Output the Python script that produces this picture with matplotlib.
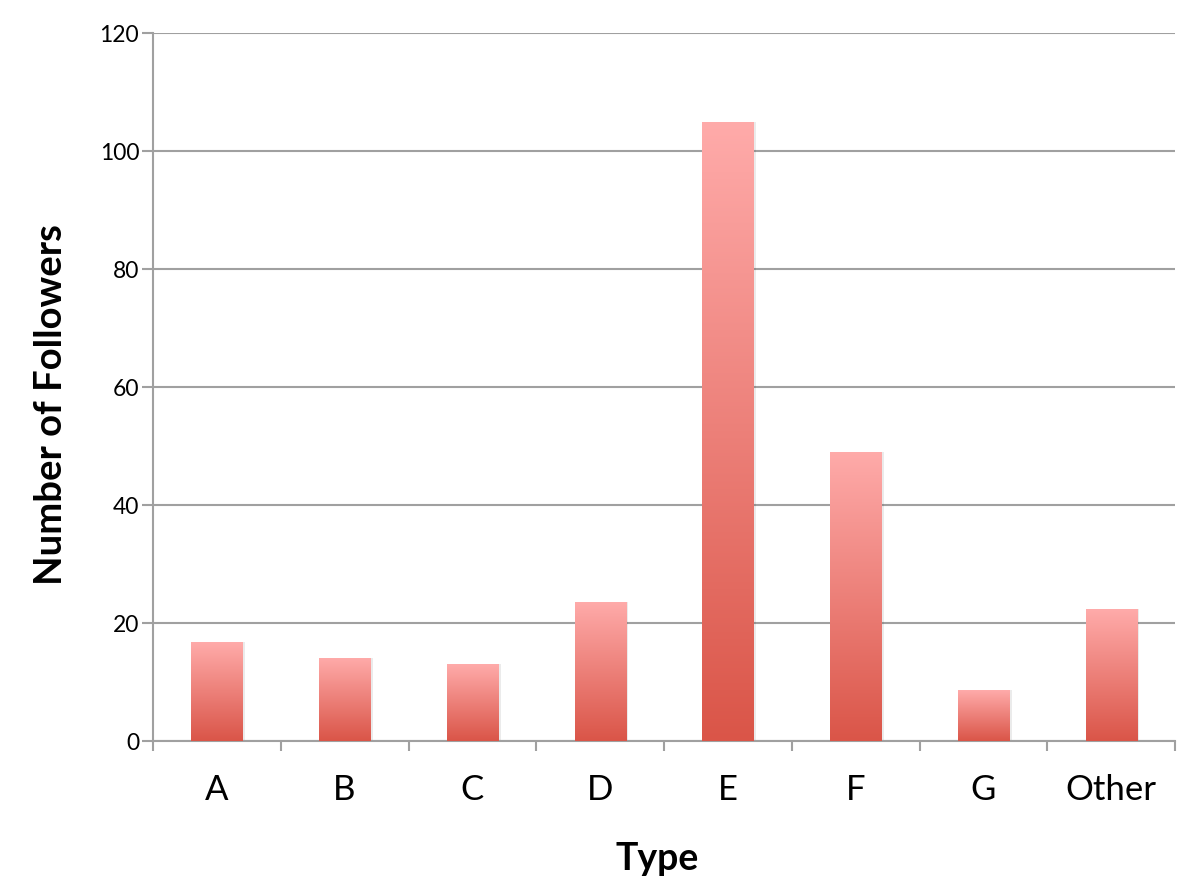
import numpy as np
import matplotlib.pyplot as plt
from matplotlib.colors import LinearSegmentedColormap

categories = ["A", "B", "C", "D", "E", "F", "G", "Other"]
followers = [16.7, 14.1, 13.0, 23.6, 105.0, 49.0, 8.6, 22.3]

plt.rcParams["font.family"] = ["Lato", "DejaVu Sans"]

fig = plt.figure(figsize=(12, 8.91), dpi=100)
ax = fig.add_axes([153 / 1200, 1 - 741 / 891, (1175 - 153) / 1200, (741 - 33) / 891])

grad = LinearSegmentedColormap.from_list("bar", ["#DA5548", "#FFABAA"])
gradient = np.linspace(0, 1, 256).reshape(-1, 1)

x = np.arange(len(categories))
bars = ax.bar(x, followers, width=0.4, color="none", edgecolor="none", zorder=3)
for b in bars:
    x0, y0 = b.get_x(), b.get_y()
    w, h = b.get_width(), b.get_height()
    # soft shadow
    ax.bar(x0 + w / 2 + 0.012, h, width=w + 0.02, bottom=0, color="#000000",
           alpha=0.08, edgecolor="none", zorder=2)
    im = ax.imshow(gradient, cmap=grad, origin="lower", aspect="auto",
                   extent=[x0, x0 + w, y0, y0 + h], zorder=3)
    im.set_clip_path(b)

ax.set_xlim(-0.5, len(categories) - 0.5)
ax.set_ylim(0, 120)
ax.set_yticks(range(0, 121, 20))
ax.set_xticks(x)
ax.set_xticklabels(categories, fontsize=25)
ax.set_xticks(np.arange(-0.5, len(categories), 1), minor=True)
ax.tick_params(axis="x", which="major", length=0, pad=24)
ax.tick_params(axis="x", which="minor", length=7, width=1.5, color="#A0A0A0")
ax.tick_params(axis="y", length=8, width=1.5, color="#A0A0A0", labelsize=16.5, pad=2)

ax.grid(axis="y", color="#A0A0A0", linewidth=1.5, zorder=0)
ax.set_axisbelow(True)
for s in ["top", "right"]:
    ax.spines[s].set_visible(False)
for s in ["left", "bottom"]:
    ax.spines[s].set_color("#A0A0A0")
    ax.spines[s].set_linewidth(1.5)

ax.set_xlabel("Type", fontsize=27, fontweight="bold")
ax.set_ylabel("Number of Followers", fontsize=27.5, fontweight="bold")
ax.xaxis.set_label_coords(0.493, -0.142)
ax.yaxis.set_label_coords(-0.083, 0.475)

fig.savefig("out.png", dpi=100)
